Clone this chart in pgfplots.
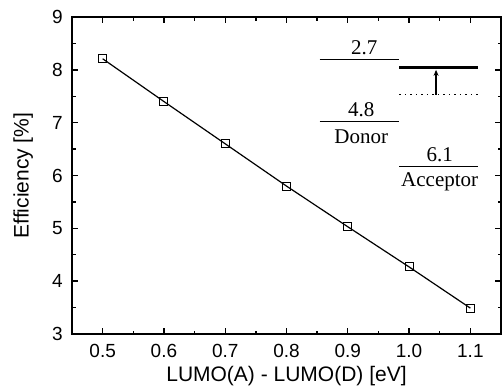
\documentclass[border=0pt]{standalone}
\usepackage{fontspec}
\setmainfont{Liberation Serif}
\setsansfont{Liberation Sans}
\usepackage{pgfplots}
\pgfplotsset{compat=1.18}
\usetikzlibrary{arrows.meta}
\begin{document}
\begin{tikzpicture}[x=1pt,y=1pt]
\begin{axis}[
  at={(72pt,55pt)}, anchor=south west,
  scale only axis, width=429pt, height=317pt,
  xmin=0.45, xmax=1.15, ymin=3, ymax=9,
  xtick={0.5,0.6,0.7,0.8,0.9,1.0,1.1},
  xticklabels={0.5,0.6,0.7,0.8,0.9,1.0,1.1},
  ytick={3,4,5,6,7,8,9},
  minor x tick num=1, minor y tick num=1,
  tick align=inside,
  major tick length=6pt, minor tick length=3.5pt,
  axis line style={line width=2pt},
  every tick/.style={line width=1.4pt, black},
  /pgf/number format/assume math mode=true,
  tick label style={font=\sffamily\fontsize{19}{19}\selectfont, inner sep=0pt},
  xticklabel style={yshift=-10pt},
  yticklabel style={xshift=-9pt},
  xlabel={LUMO(A) - LUMO(D) [eV]},
  ylabel={Efficiency [\%]},
  label style={font=\sffamily\fontsize{21}{21}\selectfont, inner sep=0pt},
  xlabel style={at={(axis description cs:0.5,-0.133)}, anchor=center},
  ylabel style={at={(axis description cs:-0.114,0.5)}, anchor=center},
  clip=false,
]
\addplot[black, line width=1.2pt, mark=square, mark size=4pt,
  mark options={line width=1pt, fill=white}]
  coordinates {(0.5,8.21) (0.6,7.40) (0.7,6.60) (0.8,5.80) (0.9,5.03) (1.0,4.27) (1.1,3.49)};
% inset energy diagram
\addplot[black, line width=1.1pt, mark=none] coordinates {(0.854,8.19) (0.984,8.19)};
\addplot[black, line width=3.2pt, mark=none] coordinates {(0.984,8.04) (1.113,8.04)};
\addplot[black, line width=1pt, mark=none, dash pattern=on 1.5pt off 4pt] coordinates {(0.984,7.53) (1.113,7.53)};
\addplot[black, line width=1.1pt, mark=none, -{Stealth[length=6pt,width=5pt]}] coordinates {(1.044,7.53) (1.044,8.00)};
\addplot[black, line width=1.1pt, mark=none] coordinates {(0.854,7.02) (0.984,7.02)};
\addplot[black, line width=1.1pt, mark=none] coordinates {(0.984,6.17) (1.113,6.17)};
\node[font=\rmfamily\fontsize{21}{21}\selectfont, inner sep=0pt] at (axis cs:0.927,8.42) {2.7};
\node[font=\rmfamily\fontsize{21}{21}\selectfont, inner sep=0pt] at (axis cs:0.922,7.25) {4.8};
\node[font=\rmfamily\fontsize{21}{21}\selectfont, inner sep=0pt] at (axis cs:0.922,6.73) {Donor};
\node[font=\rmfamily\fontsize{21}{21}\selectfont, inner sep=0pt] at (axis cs:1.050,6.40) {6.1};
\node[font=\rmfamily\fontsize{21}{21}\selectfont, inner sep=0pt] at (axis cs:1.050,5.89) {Acceptor};
\end{axis}
\pgfresetboundingbox
\path[use as bounding box] (0,0) rectangle (503,389);
\end{tikzpicture}
\end{document}
